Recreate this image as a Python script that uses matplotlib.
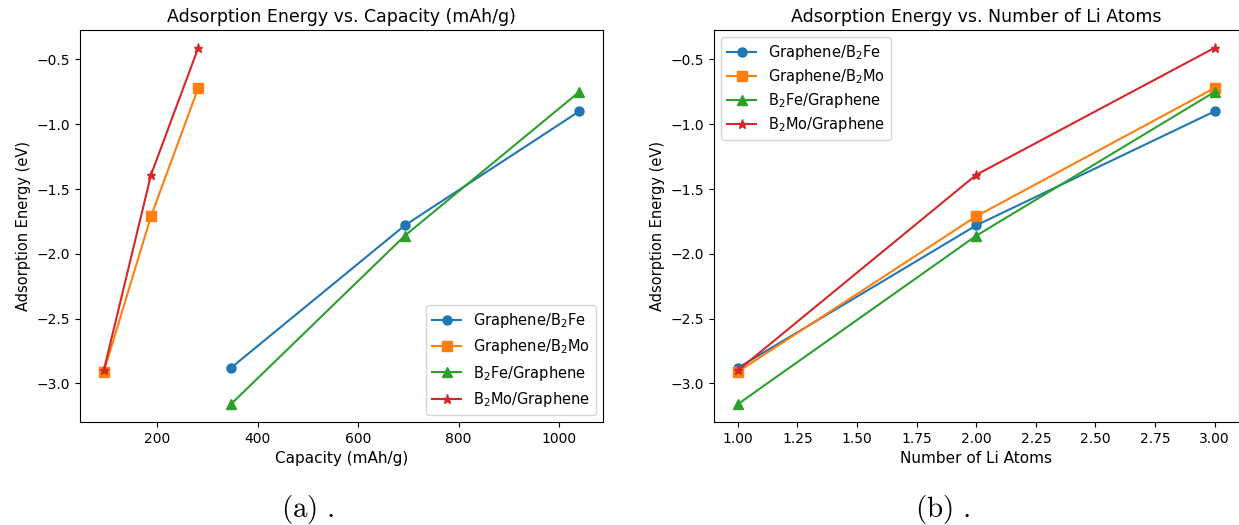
import matplotlib
matplotlib.use("Agg")
import matplotlib.pyplot as plt

# data
labels = ["Graphene/B$_2$Fe", "Graphene/B$_2$Mo", "B$_2$Fe/Graphene", "B$_2$Mo/Graphene"]
n_li = [1, 2, 3]
cap_fe = [347, 693, 1040]
cap_mo = [94, 188, 282]
e_gr_b2fe = [-2.88, -1.78, -0.90]
e_gr_b2mo = [-2.91, -1.71, -0.72]
e_b2fe_gr = [-3.16, -1.86, -0.75]
e_b2mo_gr = [-2.90, -1.39, -0.41]

caps = [cap_fe, cap_mo, cap_fe, cap_mo]
energies = [e_gr_b2fe, e_gr_b2mo, e_b2fe_gr, e_b2mo_gr]
markers = ["o", "s", "^", "*"]
colors = ["#1f77b4", "#ff7f0e", "#2ca02c", "#d62728"]

plt.rcParams["font.size"] = 10.5

W, H = 1239, 525
fig = plt.figure(figsize=(W/100, H/100), dpi=100)
ax1 = fig.add_axes([80/W, 1 - 422/H, (603 - 80)/W, (422 - 30)/H])
ax2 = fig.add_axes([714/W, 1 - 422/H, (1238.5 - 714)/W, (422 - 30)/H])

for x, y, m, c, lab in zip(caps, energies, markers, colors, labels):
    ax1.plot(x, y, marker=m, color=c, label=lab, markersize=6.5)
ax1.set_title("Adsorption Energy vs. Capacity (mAh/g)", fontsize=12.5)
ax1.set_xlabel("Capacity (mAh/g)", fontsize=11)
ax1.set_ylabel("Adsorption Energy (eV)", fontsize=10.5)
ax1.tick_params(labelsize=10)
ax1.legend(loc="lower right", fontsize=10.5, labelspacing=0.5)

for y, m, c, lab in zip(energies, markers, colors, labels):
    ax2.plot(n_li, y, marker=m, color=c, label=lab, markersize=6.5)
ax2.set_title("Adsorption Energy vs. Number of Li Atoms", fontsize=12.5)
ax2.set_xlabel("Number of Li Atoms", fontsize=11)
ax2.set_ylabel("Adsorption Energy (eV)", fontsize=10.5)
ax2.tick_params(labelsize=10)
ax2.legend(loc="upper left", fontsize=10.5, labelspacing=0.35)

fig.text(308/W, 1 - 510/H, r"$\mathrm{(a)\ .}$", ha="center", va="center",
         fontsize=21, math_fontfamily="cm")
fig.text(943/W, 1 - 510/H, r"$\mathrm{(b)\ .}$", ha="center", va="center",
         fontsize=21, math_fontfamily="cm")

fig.savefig("out.png", dpi=100)
